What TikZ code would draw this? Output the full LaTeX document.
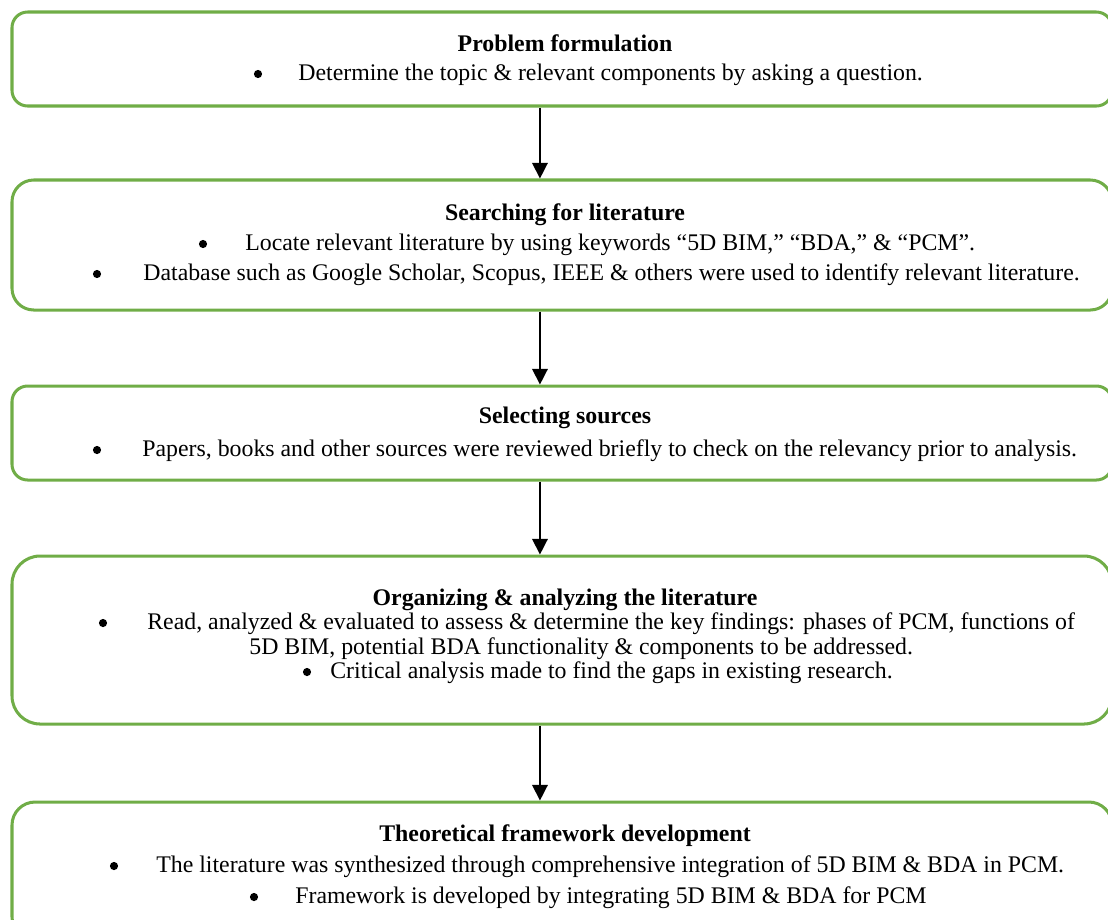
\documentclass[tikz,border=0pt]{standalone}
\usepackage{fontspec}
\setmainfont{Liberation Serif}
\usetikzlibrary{arrows.meta}
\definecolor{boxgreen}{HTML}{70AD47}
\tikzset{
	box/.style={draw=boxgreen, line width=1.7pt, minimum width=1100*0.5625pt, inner sep=0pt},
	ttl/.style={font=\fontsize{13.4pt}{15pt}\selectfont\bfseries, anchor=base, inner sep=0pt},
	txt/.style={anchor=base west, inner sep=0pt},
	dot/.style={circle, fill=black, inner sep=0pt, minimum size=4.6pt},
	arr/.style={-{Triangle[width=8.8pt,length=8.8pt]}, line width=0.8pt},
}

\begin{document}
\begin{tikzpicture}[x=0.5625pt,y=-0.5625pt, font=\fontsize{13.4pt}{15pt}\selectfont]
\useasboundingbox (0,0) rectangle (1108,919);
\clip (0,0) rectangle (1108,919);
% boxes
\node[box, minimum height=94*0.5625pt, rounded corners=8.8pt] (b1) at (562,59) {};
\node[box, minimum height=130*0.5625pt, rounded corners=12.2pt] (b2) at (562,245) {};
\node[box, minimum height=94*0.5625pt, rounded corners=8.8pt] (b3) at (562,433) {};
\node[box, minimum height=168*0.5625pt, rounded corners=15.8pt] (b4) at (562,640) {};
\node[box, minimum height=138*0.5625pt, rounded corners=13pt] (b5) at (562,871) {};
% problem formulation
\node[ttl] (t1) at (565,51) {Problem formulation};
\node[dot] (d11) at (258,74) {};
\node[txt] (l11) at (298,80) {Determine the topic \& relevant components by asking a question.};
% searching
\node[ttl] (t2) at (565,220) {Searching for literature};
\node[dot] (d21) at (203,244) {};
\node[txt] (l21) at (245,250) {Locate relevant literature by using keywords “5D BIM,” “BDA,” \& “PCM”.};
\node[dot] (d22) at (97,274) {};
\node[txt] (l22) at (143,280) {Database such as Google Scholar, Scopus, IEEE \& others were used to identify relevant literature.};
% selecting
\node[ttl] (t3) at (565,423) {Selecting sources};
\node[dot] (d31) at (97,450) {};
\node[txt] (l31) at (142,456) {Papers, books and other sources were reviewed briefly to check on the relevancy prior to analysis.};
% organizing
\node[ttl] (t4) at (565,605) {Organizing \& analyzing the literature};
\node[dot] (d41) at (103,623) {};
\node[txt] (l41) at (147,629) {Read, analyzed \& evaluated to assess \& determine the key findings: phases of PCM, functions of};
\node[txt] (l42) at (249,654) {5D BIM, potential BDA functionality \& components to be addressed.};
\node[dot] (d43) at (307,672) {};
\node[txt] (l43) at (330,678) {Critical analysis made to find the gaps in existing research.};
% framework
\node[ttl] (t5) at (565,841) {Theoretical framework development};
\node[dot] (d51) at (114,866) {};
\node[txt] (l51) at (156,872) {The literature was synthesized through comprehensive integration of 5D BIM \& BDA in PCM.};
\node[dot] (d52) at (254,897) {};
\node[txt] (l52) at (295,903) {Framework is developed by integrating 5D BIM \& BDA for PCM};
% arrows
\draw[arr] ([xshift=-12.4pt]b1.south) -- ([xshift=-12.4pt]b2.north);
\draw[arr] ([xshift=-12.4pt]b2.south) -- ([xshift=-12.4pt]b3.north);
\draw[arr] ([xshift=-12.4pt]b3.south) -- ([xshift=-12.4pt]b4.north);
\draw[arr] ([xshift=-12.4pt]b4.south) -- ([xshift=-12.4pt]b5.north);
\end{tikzpicture}
\end{document}
